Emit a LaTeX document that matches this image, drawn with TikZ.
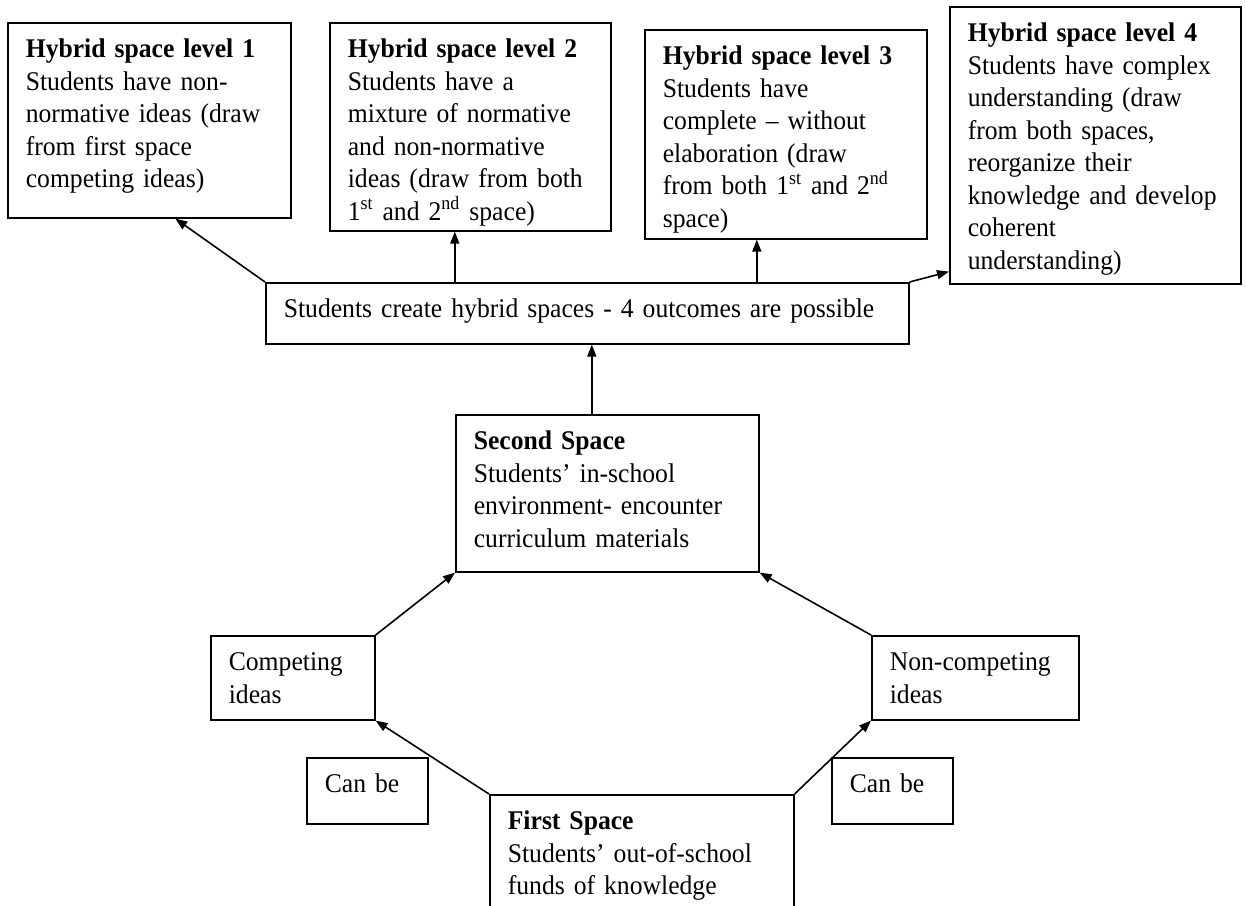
\documentclass[tikz,border=0pt]{standalone}
\usepackage{fontspec}
\setmainfont{Liberation Serif}[FakeStretch=0.95]
\usetikzlibrary{arrows.meta}
\hyphenpenalty=10000

\tikzset{
  txtbox/.style={draw, anchor=north west, align=left, inner xsep=9pt, inner ysep=8pt,
    text height=9.5pt, font=\fontsize{13.5}{16.25}\selectfont},
}

\begin{document}
\begin{tikzpicture}[x=0.5pt, y=-0.5pt, line width=0.8pt, >={Triangle[length=6pt,width=4.5pt]}]
    \useasboundingbox (0,0) rectangle (1246,905);
    \clip (0,0) rectangle (1246,905);
    % Hybrid space levels
    \node[txtbox, text width=123.5pt, text depth=72pt] (hyb1) at (7,22)
        {\textbf{Hybrid space level 1}\\ Students have non-\\ normative ideas (draw\\ from first space\\ competing ideas)};
    \node[txtbox, text width=122.5pt, text depth=78.5pt] (hyb2) at (329,22)
        {\textbf{Hybrid space level 2}\\ Students have a\\ mixture of normative\\ and non-normative\\ ideas (draw from both\\ 1\textsuperscript{st} and 2\textsuperscript{nd} space)};
    \node[txtbox, text width=123pt, text depth=79pt] (hyb3) at (644,29)
        {\textbf{Hybrid space level 3}\\ Students have\\ complete -- without\\ elaboration (draw\\ from both 1\textsuperscript{st} and 2\textsuperscript{nd}\\ space)};
    \node[txtbox, text width=127.5pt, text depth=113pt] (hyb4) at (949,6)
        {\textbf{Hybrid space level 4}\\ Students have complex\\ understanding (draw\\ from both spaces,\\ reorganize their\\ knowledge and develop\\ coherent\\ understanding)};
    % Outcomes
    \node[txtbox, text width=303.5pt, text depth=5pt] (outcomes) at (265,282)
        {Students create hybrid spaces - 4 outcomes are possible};
    % Second space
    \node[txtbox, text width=133.5pt, text depth=53pt] (second) at (455,414)
        {\textbf{Second Space}\\ Students’ in-school\\ environment- encounter\\ curriculum materials};
    % Ideas
    \node[txtbox, text width=64pt, text depth=16.5pt] (comp) at (210,635) {Competing\\ ideas};
    \node[txtbox, text width=85.5pt, text depth=16.5pt] (noncomp) at (871,635) {Non-competing\\ ideas};
    \node[txtbox, text width=42.5pt, text depth=7.5pt] (canbe1) at (306,757) {Can be};
    \node[txtbox, text width=42.5pt, text depth=7.5pt] (canbe2) at (831,757) {Can be};
    % First space
    \node[txtbox, text width=134pt, text depth=39.5pt] (first) at (489,794)
        {\textbf{First Space}\\ Students’ out-of-school\\ funds of knowledge};
    % Arrows
    \draw[->] (outcomes.north west) -- ([xshift=13pt]hyb1.south);
    \draw[->] ([xshift=-7.75pt]hyb2.south |- outcomes.north) -- ([xshift=-7.75pt]hyb2.south);
    \draw[->] ([xshift=-14.5pt]hyb3.south |- outcomes.north) -- ([xshift=-14.5pt]hyb3.south);
    \draw[->] (outcomes.north east) -- ([yshift=6.5pt]hyb4.south west);
    \draw[->] ([xshift=-7.75pt]second.north) -- ([xshift=-7.75pt]second.north |- outcomes.south);
    \draw[->] (comp.north east) -- (second.south west);
    \draw[->] (noncomp.north west) -- (second.south east);
    \draw[->] (first.north west) -- (comp.south east);
    \draw[->] (first.north east) -- (noncomp.south west);
\end{tikzpicture}
\end{document}
